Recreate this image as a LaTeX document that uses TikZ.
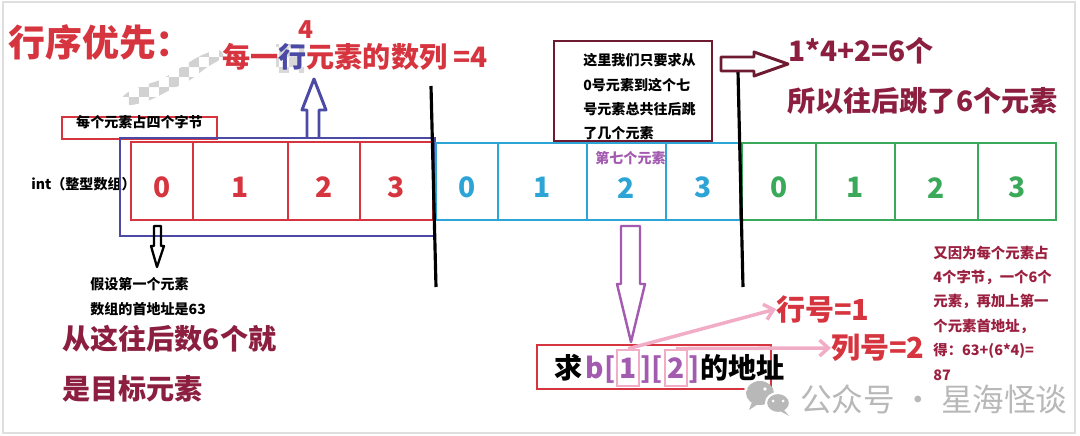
\documentclass[tikz,border=0pt]{standalone}
\usepackage{fontspec}
\setmainfont{Noto Sans CJK SC}
\usetikzlibrary{fit,arrows.meta,patterns}
\definecolor{cred}{HTML}{D6353F}
\definecolor{cblue}{HTML}{4B4BA5}
\definecolor{ccyan}{HTML}{2DA4D6}
\definecolor{cgreen}{HTML}{3BA95A}
\definecolor{cmaroon}{HTML}{8C1F40}
\definecolor{cbox}{HTML}{6E1A30}
\definecolor{cpurple}{HTML}{A35BB0}
\definecolor{cpink}{HTML}{F2ADC6}
\definecolor{cwm}{HTML}{B8B8B8}
\definecolor{cnote}{HTML}{9B2040}
\tikzset{
  lbl/.style={inner sep=0, anchor=west, font=\bfseries\fontsize{8}{10}\selectfont},
  big/.style={inner sep=0, anchor=west, font=\bfseries\fontsize{16}{19}\selectfont},
  cell/.style={draw=#1, line width=1.7pt, inner sep=0},
  cnum/.style={text=#1, inner sep=0, yshift=-3.5pt, font=\bfseries\fontsize{16}{18}\selectfont},
  frame/.style={draw=#1, line width=1.7pt, inner sep=0},
  qtext/.style={inner sep=0, anchor=base west, font=\bfseries\fontsize{16}{19}\selectfont},
  pinkbox/.style={draw=cpink, line width=1.2pt, text=cpurple, inner xsep=1.5pt, inner ysep=0pt, minimum height=0.72cm, anchor=base west, font=\bfseries\fontsize{16}{19}\selectfont},
  pinkarrow/.style={draw=cpink, line width=2pt, -{Straight Barb[length=5pt,width=9pt]}},
  hollow/.style={line width=#1, line join=round},
  divider/.style={draw=black, line width=1.8pt}
}
\begin{document}
\begin{tikzpicture}[x=0.02cm,y=-0.02cm]
\useasboundingbox (0,0) rectangle (1080,436);
\draw[gray!25, line width=1pt] (3,2) rectangle (1075,433);

% checkered smudge
\fill[pattern=checkerboard, pattern color=gray!35] plot[smooth cycle] coordinates {(122,98) (135,88) (160,80) (180,68) (200,56) (218,50) (223,57) (206,68) (190,80) (170,90) (150,100) (130,105)};
\fill[pattern=checkerboard, pattern color=gray!30] (276,44) rectangle (304,72);

% titles
\node[inner sep=0, anchor=west, text=cred, font=\bfseries\fontsize{21}{24}\selectfont] (title) at (8,42) {行序优先：};
\node[inner sep=0, text=cred, font=\bfseries\fontsize{14}{16}\selectfont] (four) at (306,30) {4};
\node[big, text=cred] (percol) at (222,57) {每一\textcolor{cblue}{行}元素的数列 =4};

% byte box
\node[frame=cred, fit={(62,117) (217,139)}, font=\bfseries\fontsize{8}{10}\selectfont] (bytes) {每个元素占四个字节};
\node[lbl] (int) at (31,184) {int（整型数组）};

% row box
\node[frame=cblue, fit={(120,138) (435,236)}] (row) {};

% cells
\node[cell=cred, fit={(131,142) (193,220)}, label={[cnum=cred]center:0}] (r0) {};
\node[cell=cred, fit={(193,142) (288,220)}, label={[cnum=cred]center:1}] (r1) {};
\node[cell=cred, fit={(288,142) (360,220)}, label={[cnum=cred]center:2}] (r2) {};
\node[cell=cred, fit={(360,142) (433,220)}, label={[cnum=cred]center:3}] (r3) {};
\node[cell=ccyan, fit={(436,143) (498,220)}, label={[cnum=ccyan]center:0}] (c0) {};
\node[cell=ccyan, fit={(498,143) (587,220)}, label={[cnum=ccyan]center:1}] (c1) {};
\node[cell=ccyan, fit={(587,143) (666,220)}, label={[cnum=ccyan]center:2}] (c2) {};
\node[cell=ccyan, fit={(666,143) (740,220)}, label={[cnum=ccyan]center:3}] (c3) {};
\node[cell=cgreen, fit={(742,143) (816,220)}, label={[cnum=cgreen]center:0}] (g0) {};
\node[cell=cgreen, fit={(816,143) (895,220)}, label={[cnum=cgreen]center:1}] (g1) {};
\node[cell=cgreen, fit={(895,143) (978,220)}, label={[cnum=cgreen]center:2}] (g2) {};
\node[cell=cgreen, fit={(978,143) (1056,220)}, label={[cnum=cgreen]center:3}] (g3) {};

% black dividers
\draw[divider] (431,86) -- (436,287);
\draw[divider] (738,71) -- (743,287);

% blue hollow up arrow
\draw[hollow=1.7pt, cblue] (307,137) -- (307,110) -- (302,110) -- (314,79) -- (326,110) -- (319,110) -- (319,137);

% maroon note box
\node[frame=cbox, fit={(554,41) (712,141)}] (note) {};
\node[lbl, align=left, font=\bfseries\fontsize{8}{13.9}\selectfont] (notetext) at (583,97) {这里我们只要求从\\0号元素到这个七\\号元素总共往后跳\\了几个元素};
\draw[hollow=1.7pt, cbox] (721,57) -- (754,57) -- (754,52) -- (788,64) -- (754,76) -- (754,71) -- (721,71) -- cycle;
\node[big, text=cmaroon] (calc) at (788,51) {1*4+2=6个};
\node[big, text=cmaroon] (jump) at (787,101) {所以往后跳了6个元素};

\node[lbl, text=cpurple] (seventh) at (595,158) {第七个元素};

% purple down arrow
\draw[hollow=1.4pt, cpurple] (621,226) -- (621,284) -- (617,284) -- (631,342) -- (645,284) -- (640,284) -- (640,226) -- cycle;

% black small down arrow
\draw[hollow=1.3pt, black] (154,226) -- (154,246) -- (151,246) -- (157,267) -- (164,246) -- (161,246) -- (161,226) -- cycle;
\node[lbl] (assume1) at (90,284) {假设第一个元素};
\node[lbl] (assume2) at (90,309) {数组的首地址是63};
\node[big, text=cmaroon] (from1) at (62,339) {从这往后数6个就};
\node[big, text=cmaroon] (from2) at (62,389) {是目标元素};

% question box
\node[frame=cred, fit={(537,345) (771,389)}] (qbox) {};
\node[qtext] (q1) at (554,378) {求};
\node[qtext, text=cpurple] (q2) at ([xshift=1.5pt]q1.base east) {b[};
\node[pinkbox] (one) at (q2.base east) {1};
\node[qtext, text=cpurple] (q3) at (one.base east) {][};
\node[pinkbox] (two) at (q3.base east) {2};
\node[qtext, text=cpurple] (q4) at (two.base east) {]};
\node[qtext] (q5) at (q4.base east) {的地址};

\node[inner sep=0, anchor=west, text=cred, font=\bfseries\fontsize{16.5}{19}\selectfont] (rowno) at (776,309) {行号=1};
\node[inner sep=0, anchor=west, text=cred, font=\bfseries\fontsize{16.5}{19}\selectfont] (colno) at (831,348) {列号=2};
\draw[pinkarrow] (one.north) -- (rowno.west);
\draw[pinkarrow] (two.north) -- (colno.west);

\node[lbl, align=left, text=cnote, font=\bfseries\fontsize{8.2}{13.9}\selectfont] (explain) at (933,313) {又因为每个元素占\\4个字节，一个6个\\元素，再加上第一\\个元素首地址，\\得：63+(6*4)=\\87};

% watermark
\fill[cwm] (760,393) ellipse [x radius=14, y radius=12];
\fill[cwm] (752,402) -- (749,410) -- (758,404) -- cycle;
\fill[white] (746,389) circle [radius=1.8];
\fill[white] (765,389) circle [radius=1.8];
\draw[white, line width=1.2pt, fill=cwm] (778,403) ellipse [x radius=12, y radius=10];
\fill[cwm] (784,410) -- (789,416) -- (780,411) -- cycle;
\fill[white] (773,401) circle [radius=1.5];
\fill[white] (783,401) circle [radius=1.5];
\node[inner sep=0, anchor=west, text=cwm, font=\fontsize{18}{21}\selectfont] (wm) at (800,399) {公众号 · 星海怪谈};
\end{tikzpicture}
\end{document}
